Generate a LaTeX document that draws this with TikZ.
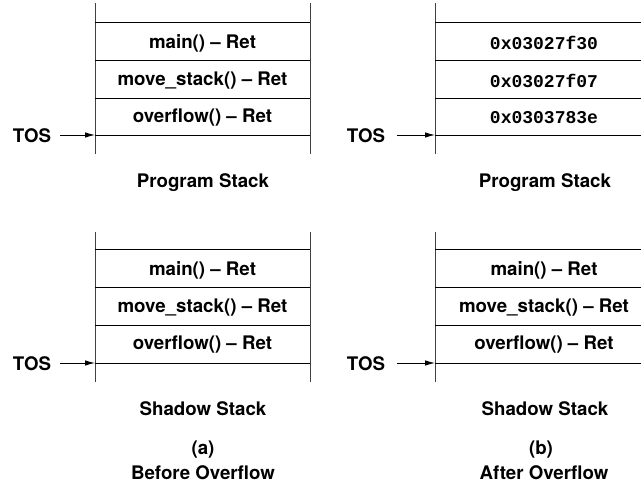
\documentclass[tikz,border=0pt]{standalone}
\usepackage{fontspec}
\setmainfont{TeX Gyre Heros}
\setmonofont{Liberation Mono}
\usetikzlibrary{arrows.meta}
\begin{document}
\begin{tikzpicture}[x=1pt,y=-1pt,
  stackline/.style={line width=0.9pt,black!75},
  cellline/.style={line width=0.9pt,black},
  txt/.style={font=\fontsize{18.7}{20}\selectfont\bfseries,inner sep=0pt},
  mono/.style={font=\fontsize{18}{20}\selectfont\ttfamily\bfseries,inner sep=0pt},
  tosarrow/.style={line width=0.9pt,-{Latex[length=10pt,width=5.5pt]}}]
\useasboundingbox (0,0) rectangle (641,486);
% ---------- (a) program stack ----------
\draw[stackline] (95,3) -- (95,154);
\draw[stackline] (310,3) -- (310,154);
\foreach \y in {22,60,98,135} \draw[cellline] (95,\y) -- (310,\y);
\node[txt] (am1) at (202.5,43) {main() -- Ret};
\node[txt] (am2) at (202.5,81) {move\_stack() -- Ret};
\node[txt] (am3) at (202.5,118) {overflow() -- Ret};
\node[txt] (atos1) at (32,136) {TOS};
\coordinate (atip1) at (95,135);
\draw[tosarrow] (60,135) -- (atip1);
\node[txt] (aps) at (203,183) {Program Stack};
% ---------- (a) shadow stack ----------
\draw[stackline] (95,232) -- (95,382);
\draw[stackline] (310,232) -- (310,382);
\foreach \y in {249,287,325,363} \draw[cellline] (95,\y) -- (310,\y);
\node[txt] (as1) at (202.5,270) {main() -- Ret};
\node[txt] (as2) at (202.5,308) {move\_stack() -- Ret};
\node[txt] (as3) at (202.5,345) {overflow() -- Ret};
\node[txt] (atos2) at (32,364) {TOS};
\coordinate (atip2) at (95,363);
\draw[tosarrow] (60,363) -- (atip2);
\node[txt] (ass) at (203,409) {Shadow Stack};
\node[txt] (acap) at (203,450) {(a)};
\node[txt] (atitle) at (203,473) {Before Overflow};
% ---------- (b) program stack ----------
\draw[stackline] (435,3) -- (435,154);
\foreach \y in {22,60,98,135} \draw[cellline] (435,\y) -- (641,\y);
\node[mono] (bm1) at (544,43) {0x03027f30};
\node[mono] (bm2) at (544,81) {0x03027f07};
\node[mono] (bm3) at (544,118) {0x0303783e};
\node[txt] (btos1) at (366,136) {TOS};
\coordinate (btip1) at (435,135);
\draw[tosarrow] (397,135) -- (btip1);
\node[txt] (bps) at (545,183) {Program Stack};
% ---------- (b) shadow stack ----------
\draw[stackline] (435,232) -- (435,382);
\foreach \y in {249,287,325,363} \draw[cellline] (435,\y) -- (641,\y);
\node[txt] (bs1) at (544,270) {main() -- Ret};
\node[txt] (bs2) at (544,308) {move\_stack() -- Ret};
\node[txt] (bs3) at (544,345) {overflow() -- Ret};
\node[txt] (btos2) at (366,364) {TOS};
\coordinate (btip2) at (435,363);
\draw[tosarrow] (397,363) -- (btip2);
\node[txt] (bss) at (545,409) {Shadow Stack};
\node[txt] (bcap) at (541,450) {(b)};
\node[txt] (btitle) at (544,473) {After Overflow};
\end{tikzpicture}
\end{document}
